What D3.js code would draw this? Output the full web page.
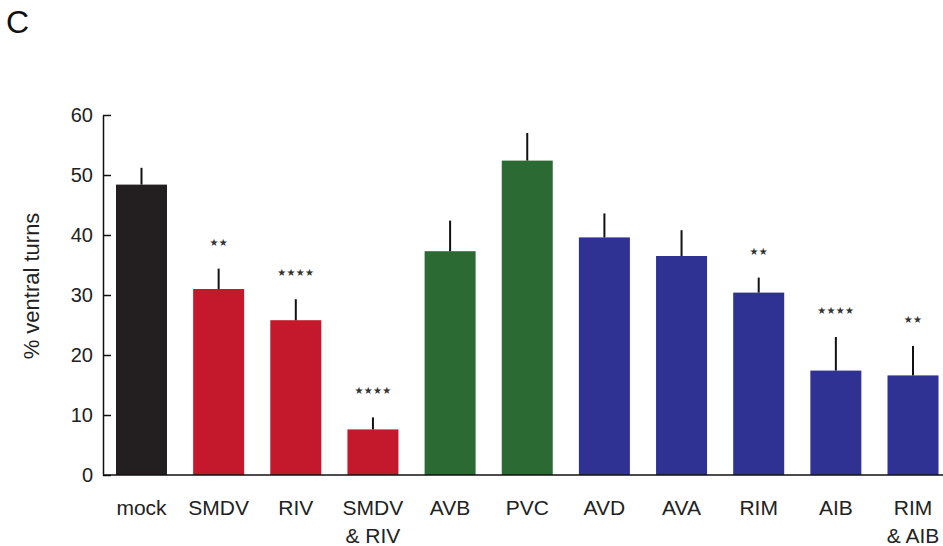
<!DOCTYPE html>
<html><head><meta charset="utf-8">
<script src="https://cdn.jsdelivr.net/npm/d3@7"></script>
<style>html,body{margin:0;padding:0;background:#fff;}svg{display:block;font-family:"Liberation Sans",Arial,Helvetica,sans-serif;}</style>
</head><body>
<svg id="c" width="943" height="546"></svg>
<script>
const categories = ["mock","SMDV","RIV","SMDV\n& RIV","AVB","PVC","AVD","AVA","RIM","AIB","RIM\n& AIB"];
const values = [48.4, 31.0, 25.8, 7.6, 37.3, 52.4, 39.6, 36.5, 30.4, 17.4, 16.6];
const errTops = [51.2, 34.4, 29.3, 9.6, 42.4, 57.0, 43.6, 40.8, 32.9, 23.0, 21.5];
const groups = ["control","red","red","red","green","green","blue","blue","blue","blue","blue"];
const stars = ["", "**", "****", "****", "", "", "", "", "**", "****", "**"];
const yTicks = [0,10,20,30,40,50,60];
const groupColors = {control:"#231f20", red:"#c4192d", green:"#2c6a34", blue:"#2f3193"};

const svg = d3.select("#c");
const x = d3.scaleBand().domain(d3.range(categories.length)).range([103.5, 951]).paddingInner(0.339).paddingOuter(0.162);
const y = d3.scaleLinear().domain([0,60]).range([475,115]);

svg.append("text").attr("x",6).attr("y",33).attr("font-size",32).attr("fill","#111").text("C");

// bars
svg.selectAll("rect.bar").data(values).join("rect").attr("class","bar")
  .attr("x",(d,i)=>x(i)).attr("width",x.bandwidth())
  .attr("y",d=>y(d)).attr("height",d=>y(0)-y(d))
  .attr("fill",(d,i)=>groupColors[groups[i]]);

// error bars (upper only)
svg.selectAll("line.err").data(values).join("line").attr("class","err")
  .attr("x1",(d,i)=>x(i)+x.bandwidth()/2).attr("x2",(d,i)=>x(i)+x.bandwidth()/2)
  .attr("y1",d=>y(d)).attr("y2",(d,i)=>y(errTops[i]))
  .attr("stroke","#111").attr("stroke-width",2);

// stars
svg.selectAll("text.star").data(stars).join("text").attr("class","star")
  .attr("x",(d,i)=>x(i)+x.bandwidth()/2).attr("y",(d,i)=>y(errTops[i])-23)
  .attr("text-anchor","middle").attr("font-size",10).attr("letter-spacing",0.3)
  .attr("font-family","DejaVu Sans").attr("fill","#333")
  .text(d=>d.replace(/\*/g,"\u2605"));

// y axis
const yAxis = d3.axisLeft(y).tickValues(yTicks).tickSizeInner(-8).tickSizeOuter(0).tickPadding(10);
const gy = svg.append("g").attr("transform","translate(103,0)").call(yAxis);
gy.select(".domain").attr("stroke","#111").attr("stroke-width",1.5);
gy.selectAll(".tick line").attr("stroke","#111").attr("stroke-width",1.5);
gy.selectAll(".tick text").attr("font-size",20).attr("fill","#222").attr("font-family","Liberation Sans, Arial, sans-serif");

// x axis baseline
const xAxis = d3.axisBottom(x).tickSize(0).tickFormat("");
const gx = svg.append("g").attr("transform","translate(0,475)").call(xAxis);
gx.select(".domain").remove();
gx.append("line").attr("x1",103).attr("x2",943).attr("y1",0).attr("y2",0).attr("stroke","#111").attr("stroke-width",1.5);
gx.selectAll(".tick").each(function(d){
  const lines = categories[d].split("\n");
  const t = d3.select(this).append("text").attr("fill","#222").attr("font-size",21)
    .attr("text-anchor","middle").attr("font-family","Liberation Sans, Arial, sans-serif");
  lines.forEach((l,k)=>t.append("tspan").attr("x",0).attr("y",40+k*28).text(l));
});

// y label
svg.append("text").attr("transform","translate(39,286) rotate(-90)")
  .attr("text-anchor","middle").attr("font-size",22).attr("fill","#222").text("% ventral turns");
</script>
</body></html>
